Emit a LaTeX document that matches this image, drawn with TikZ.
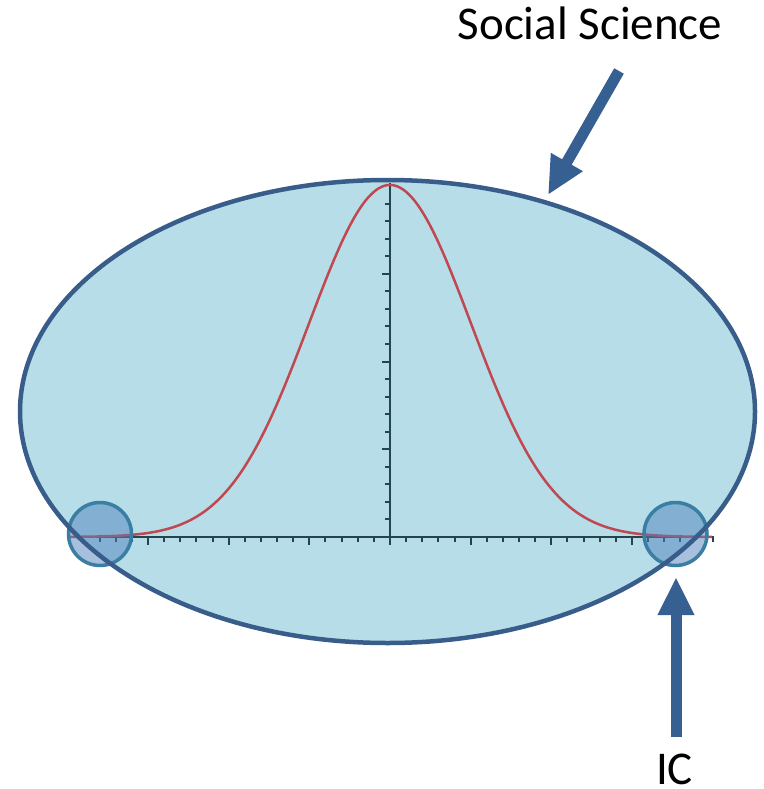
\documentclass[tikz,border=0pt]{standalone}
\usepackage{fontspec}
\setmainfont{Carlito}
\usetikzlibrary{arrows.meta}
\definecolor{ellfill}{RGB}{183,222,232}
\definecolor{ellline}{RGB}{56,93,138}
\definecolor{curvered}{RGB}{192,72,80}
\definecolor{axiscol}{RGB}{38,68,78}
\definecolor{circfill}{RGB}{79,129,189}
\definecolor{circline}{RGB}{58,126,164}
\definecolor{arrowcol}{RGB}{55,96,146}
\tikzset{
  axisline/.style={draw=axiscol, line width=2pt},
  tickline/.style={draw=axiscol, line width=2pt},
  bigarrow/.style={draw=arrowcol, line width=11pt, -{Triangle[width=34pt,length=38pt]}},
  zone/.style={fill=circfill, fill opacity=0.5, draw=circline, line width=3.5pt},
  label/.style={font=\fontsize{47}{56}\selectfont, text=black, anchor=base, inner sep=0pt},
}
\begin{document}
\begin{tikzpicture}[x=1pt,y=-1pt]
\useasboundingbox (0,0) rectangle (763,789);
% population ellipse
\fill[ellfill] (387.5,411.5) ellipse [x radius=367.5pt, y radius=231.5pt];
% axes
\draw[axisline] (68,537) -- (713,537) -- (713,542);
\draw[axisline] (390,183) -- (390,545);
\foreach \k in {1,...,18}{
  \draw[tickline] ({390-16.13*\k},537) -- ++(0,5);
  \draw[tickline] ({390+16.13*\k},537) -- ++(0,5);
}
\foreach \k in {5,10,15}{
  \draw[tickline] ({390-16.13*\k},537) -- ++(0,8);
  \draw[tickline] ({390+16.13*\k},537) -- ++(0,8);
}
\foreach \k in {1,...,19}{
  \draw[tickline] (390,{537-17.55*\k}) -- ++(-5,0);
}
\foreach \k in {5,10,15}{
  \draw[tickline] (390,{537-17.55*\k}) -- ++(-8,0);
}
% bell curve
\draw[curvered, line width=2.5pt] plot[domain=70:712, samples=240, smooth]
  (\x, {537-352*exp(-0.5*((\x-390)/81)^2)});
% tail circles
\filldraw[zone] (100,534) circle [radius=31.5pt];
\filldraw[zone] (675.5,534) circle [radius=31.5pt];
% ellipse outline
\draw[ellline, line width=4.5pt] (387.5,411.5) ellipse [x radius=367.5pt, y radius=231.5pt];
% labels
\node[label] (sslabel) at (590,40) {Social Science};
\node[label] (iclabel) at (674.5,784) {IC};
% arrows
\coordinate (sstail) at (619,71);
\coordinate (sstip) at (548,195);
\coordinate (ictail) at (676,737);
\coordinate (ictip) at (676,577);
\draw[bigarrow] (sstail) -- (sstip);
\draw[bigarrow] (ictail) -- (ictip);
\end{tikzpicture}
\end{document}
